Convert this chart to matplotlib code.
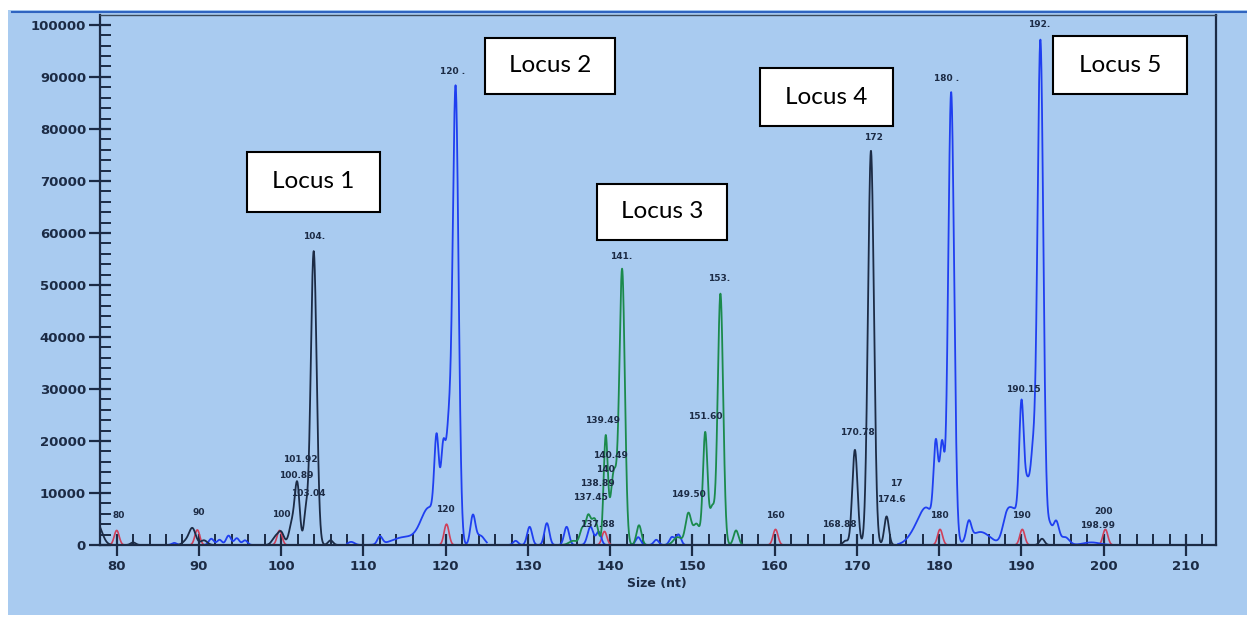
import numpy as np
import matplotlib
matplotlib.use('Agg')
import matplotlib.pyplot as plt
from matplotlib.patches import Rectangle
from matplotlib.lines import Line2D

plt.rcParams['font.family'] = ['DejaVu Sans']

# peak tables: (size nt, height rfu, width)
black_peaks = [(77.6, 4200, 0.6), (82.0, 500, 0.3), (88.4, 700, 0.4), (89.2, 3200, 0.4),
               (90.6, 900, 0.4), (99.3, 1500, 0.4), (100.0, 2300, 0.35), (101.3, 4000, 0.35),
               (101.95, 11500, 0.3), (103.0, 6000, 0.25), (103.95, 56500, 0.36), (106.0, 900, 0.3),
               (168.6, 800, 0.3), (169.75, 18300, 0.32), (171.7, 75800, 0.36), (173.6, 5500, 0.28),
               (192.5, 1200, 0.3)]
black_segments = [(78, 107), (167.5, 175), (191.5, 193.5)]

blue_peaks = [(87.0, 400, 0.3), (91.5, 1200, 0.3), (92.5, 1000, 0.3), (93.6, 1800, 0.3),
              (94.6, 1300, 0.3), (95.6, 900, 0.3), (108.5, 600, 0.4), (112.0, 1500, 0.3),
              (115.0, 1500, 1.5), (118.0, 7000, 1.0), (118.9, 16500, 0.28), (119.7, 16500, 0.28),
              (120.35, 19000, 0.3), (121.2, 88000, 0.36), (123.3, 5500, 0.3), (124.2, 1800, 0.5),
              (128.5, 800, 0.3), (130.2, 3500, 0.3), (132.3, 4200, 0.3), (134.7, 3500, 0.3),
              (137.6, 3500, 0.35), (138.6, 2500, 0.3), (143.4, 1500, 0.3), (145.6, 1000, 0.3),
              (147.5, 1500, 0.3), (148.3, 2000, 0.3),
              (177.3, 2500, 1.0), (178.6, 6000, 0.9), (179.6, 16500, 0.28), (180.35, 18000, 0.28),
              (181.45, 87000, 0.36), (183.6, 3500, 0.3), (185.0, 2500, 1.2), (188.2, 5000, 0.5),
              (189.2, 6000, 0.6), (190.0, 24000, 0.28), (190.7, 11000, 0.35), (191.4, 15000, 0.3),
              (192.3, 97000, 0.36), (193.4, 3500, 0.3), (194.2, 4500, 0.35), (195.3, 1500, 0.5),
              (198.5, 500, 1.0)]
blue_segments = [(84, 98), (108, 125), (127, 149), (175, 201)]

green_peaks = [(135.5, 800, 0.5), (136.6, 3000, 0.3), (137.3, 5000, 0.3), (138.1, 5000, 0.4),
               (139.45, 20500, 0.25), (140.45, 14000, 0.4), (141.45, 52500, 0.33),
               (143.5, 3800, 0.3), (148.2, 1500, 0.5), (149.5, 6000, 0.35), (150.5, 4000, 0.4),
               (151.55, 21500, 0.28), (152.4, 7000, 0.3), (153.4, 48300, 0.33), (155.3, 2800, 0.3)]
green_segments = [(134, 158)]

red_sizes = [80, 89.8, 99.8, 120.1, 139.3, 160.1, 180.1, 190.1, 200.2]
red_heights = [2800, 2900, 2800, 4000, 2600, 3000, 3000, 3000, 3000]

# peak call labels: (x, y, text)
peak_labels = [(80.3, 4800, '80'), (90.0, 5300, '90'), (100.0, 5000, '100'),
               (102.3, 15500, '101.92'), (101.8, 12500, '100.89'), (103.3, 9000, '103.04'),
               (104.0, 58400, '104.'), (120.8, 90200, '120 .'), (120.0, 6000, '120'),
               (141.3, 54600, '141.'), (139.1, 23000, '139.49'), (140.0, 16400, '140.49'),
               (139.4, 13700, '140'), (138.5, 10900, '138.89'), (137.6, 8200, '137.45'),
               (138.5, 3000, '137.88'), (151.5, 23800, '151.60'), (149.5, 8800, '149.50'),
               (153.2, 50400, '153.'), (160.1, 4900, '160'), (172.0, 77500, '172'),
               (170.0, 20700, '170.78'), (174.2, 7900, '174.6'), (174.8, 10900, '17'),
               (167.8, 3100, '168.88'), (180.9, 88800, '180 .'), (180.0, 4900, '180'),
               (192.2, 99200, '192.'), (190.2, 29000, '190.15'), (190.0, 4900, '190'),
               (200.0, 5500, '200'), (199.3, 2800, '198.99')]

locus_names = ['Locus 1', 'Locus 2', 'Locus 3', 'Locus 4', 'Locus 5']
# boxes in pixels: left, top, right, bottom
locus_boxes = [(247, 152, 380, 212), (485, 38, 615, 94), (597, 184, 727, 240),
               (760, 68, 893, 126), (1053, 36, 1187, 94)]

W, H = 1247, 617
navy = '#1c2b45'
bg = '#a9cbf0'


def trace(peaks, segments):
    out = []
    for a, b in segments:
        x = np.linspace(a, b, int((b - a) * 60))
        y = np.zeros_like(x)
        for c, h, s in peaks:
            y += h * np.exp(-0.5 * ((x - c) / s) ** 2)
        out.append((x, y))
    return out


fig = plt.figure(figsize=(W / 100, H / 100), dpi=100)
fig.patch.set_facecolor('white')
fig.patches.append(Rectangle((8 / W, 2 / H), 1 - 8 / W, (H - 12) / H,
                             transform=fig.transFigure, facecolor=bg, edgecolor='none', zorder=-5))
fig.lines.append(Line2D([12 / W, 1], [1 - 12 / H, 1 - 12 / H], transform=fig.transFigure,
                        color='#2f64c0', lw=1.5))

ax = fig.add_axes([100 / W, 1 - 545 / H, (1216 - 100) / W, (545 - 15) / H])
ax.set_facecolor('none')
ax.set_xlim(77.97, 213.65)
ax.set_ylim(0, 101900)

for c, h in zip(red_sizes, red_heights):
    x = np.linspace(c - 1.0, c + 1.0, 80)
    ax.plot(x, h * np.exp(-0.5 * ((x - c) / 0.3) ** 2), color='#d0405a', lw=1.2)
for x, y in trace(blue_peaks, blue_segments):
    ax.plot(x, y, color='#1f3ff0', lw=1.3)
for x, y in trace(green_peaks, green_segments):
    ax.plot(x, y, color='#1b8a4c', lw=1.3)
for x, y in trace(black_peaks, black_segments):
    ax.plot(x, y, color=navy, lw=1.3)

for x, y, t in peak_labels:
    ax.text(x, y, t, ha='center', va='bottom', fontsize=6.5, fontweight='bold', color=navy)

ax.set_xticks(np.arange(80, 211, 10))
ax.set_xticks(np.arange(78, 214, 2), minor=True)
ax.set_yticks(np.arange(0, 100001, 10000))
ax.set_yticks(np.arange(0, 100001, 2000), minor=True)
ax.tick_params(which='major', direction='inout', length=16, width=1.6, color=navy,
               labelcolor=navy, labelsize=9.5)
ax.tick_params(which='minor', direction='in', length=8, width=1.4, color=navy)
ax.tick_params(axis='x', which='major', pad=3)
ax.tick_params(axis='y', which='major', pad=2)
for lab in ax.get_xticklabels() + ax.get_yticklabels():
    lab.set_fontweight('bold')
for side in ['left', 'bottom', 'right']:
    ax.spines[side].set_color(navy)
    ax.spines[side].set_linewidth(1.6)
ax.spines['top'].set_color('#3a4a5a')
ax.spines['top'].set_linewidth(1.0)

fig.text(657 / W, 1 - 584 / H, 'Size (nt)', ha='center', va='center', fontsize=9,
         fontweight='bold', color=navy)

for name, (l, t, r, b) in zip(locus_names, locus_boxes):
    fig.patches.append(Rectangle((l / W, 1 - b / H), (r - l) / W, (b - t) / H,
                                 transform=fig.transFigure, facecolor='white',
                                 edgecolor='black', lw=1.5, zorder=5))
    fig.text((l + r) / 2 / W, 1 - (t + b) / 2 / H, name, ha='center', va='center',
             fontsize=17.5, family='Lato', color='black', zorder=6)

fig.savefig('out.png', dpi=100, facecolor=fig.get_facecolor())
